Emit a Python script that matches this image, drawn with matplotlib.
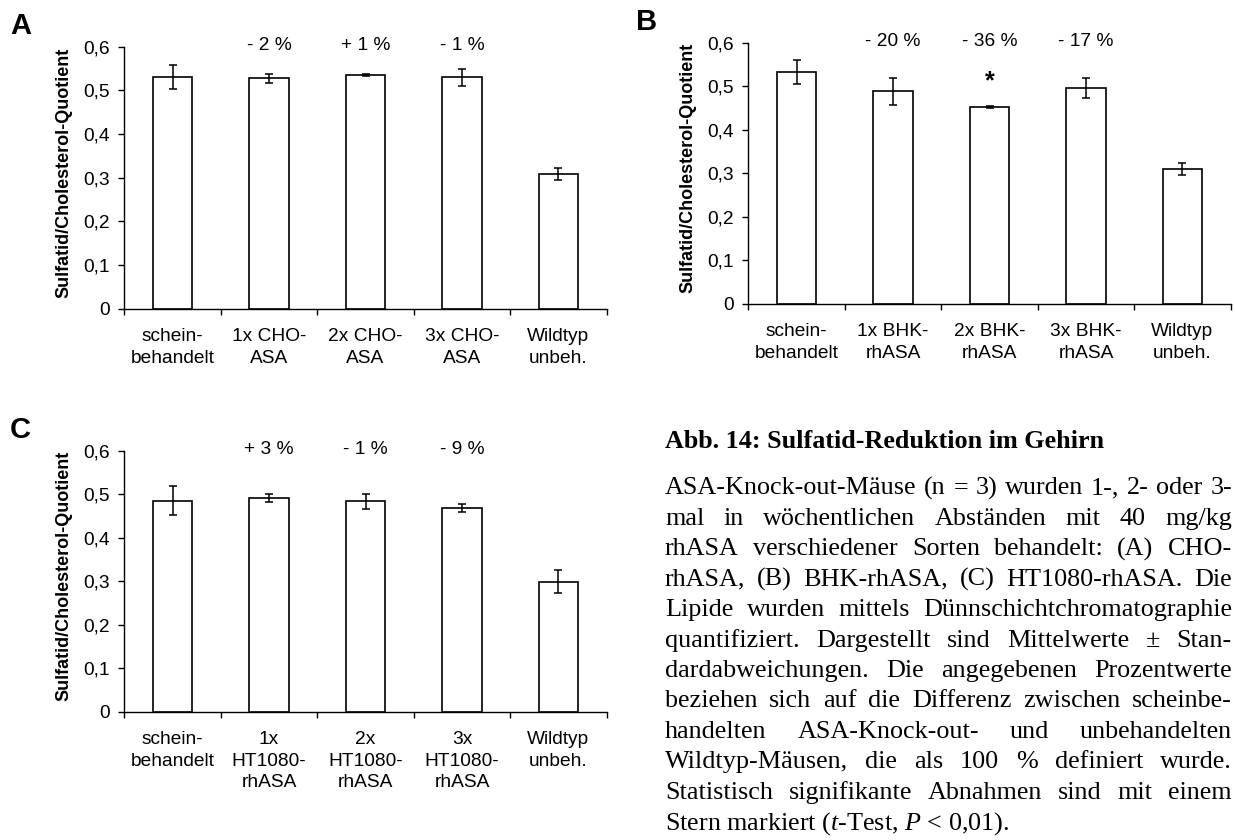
import numpy as np
import matplotlib
matplotlib.use("Agg")
import matplotlib.pyplot as plt


W, H = 1235, 840

plt.rcParams["font.family"] = ["Liberation Sans", "DejaVu Sans"]
plt.rcParams["mathtext.fontset"] = "custom"
plt.rcParams["mathtext.rm"] = "Liberation Serif"
plt.rcParams["mathtext.it"] = "Liberation Serif:italic"

# Data
# ----
labels_a = ["schein-\nbehandelt", "1x CHO-\nASA", "2x CHO-\nASA", "3x CHO-\nASA", "Wildtyp\nunbeh."]
means_a = [0.531, 0.528, 0.535, 0.530, 0.309]
errs_a = [0.027, 0.010, 0.002, 0.019, 0.014]
notes_a = ["", "- 2 %", "+ 1 %", "- 1 %", ""]

labels_b = ["schein-\nbehandelt", "1x BHK-\nrhASA", "2x BHK-\nrhASA", "3x BHK-\nrhASA", "Wildtyp\nunbeh."]
means_b = [0.533, 0.489, 0.452, 0.496, 0.310]
errs_b = [0.027, 0.031, 0.002, 0.023, 0.014]
notes_b = ["", "- 20 %", "- 36 %", "- 17 %", ""]
signif_b = [False, False, True, False, False]

labels_c = ["schein-\nbehandelt", "1x\nHT1080-\nrhASA", "2x\nHT1080-\nrhASA", "3x\nHT1080-\nrhASA", "Wildtyp\nunbeh."]
means_c = [0.485, 0.491, 0.484, 0.468, 0.299]
errs_c = [0.033, 0.010, 0.017, 0.010, 0.026]
notes_c = ["", "+ 3 %", "- 1 %", "- 9 %", ""]

ytick_vals = [0, 0.1, 0.2, 0.3, 0.4, 0.5, 0.6]
ytick_text = ["0", "0,1", "0,2", "0,3", "0,4", "0,5", "0,6"]

caption_title = "Abb. 14: Sulfatid-Reduktion im Gehirn"
caption_lines = [
    "ASA-Knock-out-Mäuse (n = 3) wurden 1-, 2- oder 3-",
    "mal in wöchentlichen Abständen mit 40 mg/kg",
    "rhASA verschiedener Sorten behandelt: (A) CHO-",
    "rhASA, (B) BHK-rhASA, (C) HT1080-rhASA. Die",
    "Lipide wurden mittels Dünnschichtchromatographie",
    "quantifiziert. Dargestellt sind Mittelwerte ± Stan-",
    "dardabweichungen. Die angegebenen Prozentwerte",
    "beziehen sich auf die Differenz zwischen scheinbe-",
    "handelten ASA-Knock-out- und unbehandelten",
    "Wildtyp-Mäusen, die als 100 % definiert wurde.",
    "Statistisch signifikante Abnahmen sind mit einem",
]
caption_last = r"Stern markiert ($t$-Test, $P$ < 0,01)."


def axes_rect(left, right, top, bottom):
    # pixel box -> figure fraction
    return [left / W, 1 - bottom / H, (right - left) / W, (bottom - top) / H]


def bar_panel(ax, labels, means, errs, notes, signif=None):
    x = np.arange(len(means))
    ax.bar(x, means, width=0.41, color="white", edgecolor="black",
           linewidth=1.2, zorder=2)
    ax.errorbar(x, means, yerr=errs, fmt="none", ecolor="black",
                elinewidth=1.1, capsize=3.0, capthick=1.1, zorder=3)

    ax.set_xlim(-0.5, len(means) - 0.5)
    ax.set_ylim(0, 0.6)
    ax.set_yticks(ytick_vals)
    ax.set_yticklabels(ytick_text)
    ax.set_xticks(x)
    ax.set_xticklabels(labels, linespacing=1.35)
    ax.set_xticks(np.arange(-0.5, len(means)), minor=True)

    ax.tick_params(axis="x", which="major", length=0, pad=14, labelsize=13.8)
    ax.tick_params(axis="x", which="minor", length=4.3, width=1.0)
    ax.tick_params(axis="y", length=4.3, width=1.0, pad=6, labelsize=13.8)

    for side in ("top", "right"):
        ax.spines[side].set_visible(False)
    for side in ("left", "bottom"):
        ax.spines[side].set_linewidth(1.0)

    ax.set_ylabel("Sulfatid/Cholesterol-Quotient", fontsize=13,
                  fontweight="bold")
    ax.yaxis.set_label_coords(-0.107, 0.52)

    for i, note in enumerate(notes):
        if note:
            ax.text(i, 0.603, note, ha="center", va="center",
                    fontsize=13.8, clip_on=False)
    if signif is not None:
        for i, s in enumerate(signif):
            if s:
                ax.text(i, 0.495, "*", ha="center", va="baseline",
                        fontsize=18, fontweight="bold")


fig = plt.figure(figsize=(W / 100, H / 100), dpi=100)

ax_a = fig.add_axes(axes_rect(124.3, 606.7, 46.7, 308.7))
ax_b = fig.add_axes(axes_rect(748.3, 1230.7, 42.7, 304.0))
ax_c = fig.add_axes(axes_rect(124.3, 606.7, 450.7, 711.7))

bar_panel(ax_a, labels_a, means_a, errs_a, notes_a)
bar_panel(ax_b, labels_b, means_b, errs_b, notes_b, signif_b)
bar_panel(ax_c, labels_c, means_c, errs_c, notes_c)

# Panel letters
# -------------
for letter, px, py in [("A", 10, 26), ("B", 636, 22), ("C", 10, 430)]:
    fig.text(px / W, 1 - py / H, letter, fontsize=21, fontweight="bold",
             ha="left", va="center")

# Caption
# -------
serif = dict(family="Liberation Serif", fontsize=18.8)
cap_left, cap_right = 665, 1232
line_y0, line_step = 488.3, 30.45

fig.text(cap_left / W, 1 - 441.7 / H, caption_title, fontweight="bold",
         va="center", ha="left", **serif)

# justified body lines: spread the words between both margins
renderer = fig.canvas.get_renderer()
for k, line in enumerate(caption_lines):
    y = 1 - (line_y0 + k * line_step) / H
    words = line.split(" ")
    texts = [fig.text(0, y, w, va="center", ha="left", **serif) for w in words]
    widths = [t.get_window_extent(renderer).width for t in texts]
    gap = (cap_right - cap_left - sum(widths)) / (len(words) - 1)
    xpos = cap_left
    for t, w in zip(texts, widths):
        t.set_x(xpos / W)
        xpos += w + gap

fig.text(cap_left / W, 1 - (line_y0 + len(caption_lines) * line_step) / H,
         caption_last, va="center", ha="left", **serif)

fig.savefig("out.png", dpi=100, facecolor="white")
